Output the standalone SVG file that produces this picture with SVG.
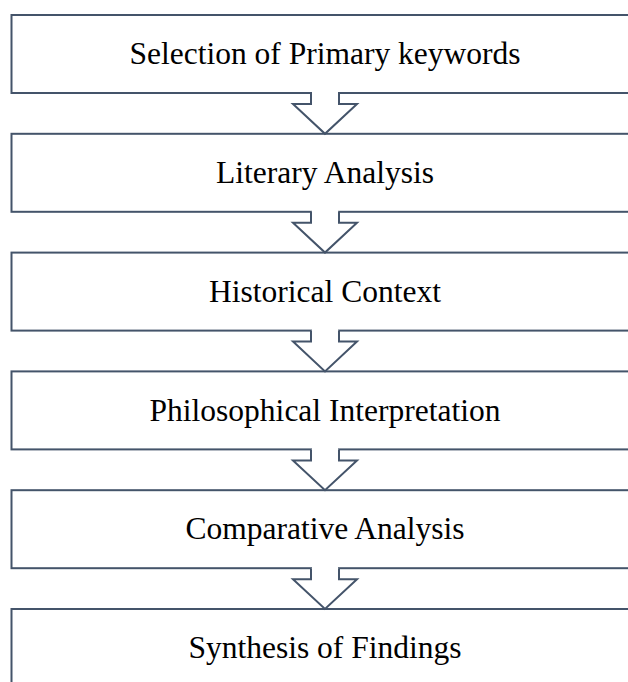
<svg xmlns="http://www.w3.org/2000/svg" width="628" height="682" viewBox="0 0 628 682">
<style>
.box{fill:#fff;stroke:#44546A;stroke-width:2}
.arr{fill:#fff;stroke:#44546A;stroke-width:2;stroke-linejoin:miter}
.gap{fill:#fff;stroke:none}
.lbl{font-family:"Liberation Serif","Times New Roman",serif;font-size:31.5px;fill:#000;text-anchor:middle}
</style>
<rect width="628" height="682" fill="#fff"/>
<g id="n1"><rect class="box" x="11.5" y="15" width="640" height="78"/><text class="lbl" x="325" y="64">Selection of Primary keywords</text></g>
<g id="n2"><rect class="box" x="11.5" y="133.8" width="640" height="78"/><text class="lbl" x="325" y="183">Literary Analysis</text></g>
<g id="n3"><rect class="box" x="11.5" y="252.6" width="640" height="78"/><text class="lbl" x="325" y="301.8">Historical Context</text></g>
<g id="n4"><rect class="box" x="11.5" y="371.4" width="640" height="78"/><text class="lbl" x="325" y="420.6">Philosophical Interpretation</text></g>
<g id="n5"><rect class="box" x="11.5" y="490.2" width="640" height="78"/><text class="lbl" x="325" y="539.4">Comparative Analysis</text></g>
<g id="n6"><rect class="box" x="11.5" y="609" width="640" height="78"/><text class="lbl" x="325" y="658.2">Synthesis of Findings</text></g>
<g id="connectors">
<g><rect class="gap" x="312" y="91" width="26" height="4"/><path class="arr" d="M311,93 V104 H293 L325,133.8 L357,104 H339 V93"/></g>
<g><rect class="gap" x="312" y="209.8" width="26" height="4"/><path class="arr" d="M311,211.8 V222.8 H293 L325,252.6 L357,222.8 H339 V211.8"/></g>
<g><rect class="gap" x="312" y="328.6" width="26" height="4"/><path class="arr" d="M311,330.6 V341.6 H293 L325,371.4 L357,341.6 H339 V330.6"/></g>
<g><rect class="gap" x="312" y="447.4" width="26" height="4"/><path class="arr" d="M311,449.4 V460.4 H293 L325,490.2 L357,460.4 H339 V449.4"/></g>
<g><rect class="gap" x="312" y="566.2" width="26" height="4"/><path class="arr" d="M311,568.2 V579.2 H293 L325,609 L357,579.2 H339 V568.2"/></g>
</g>
</svg>
